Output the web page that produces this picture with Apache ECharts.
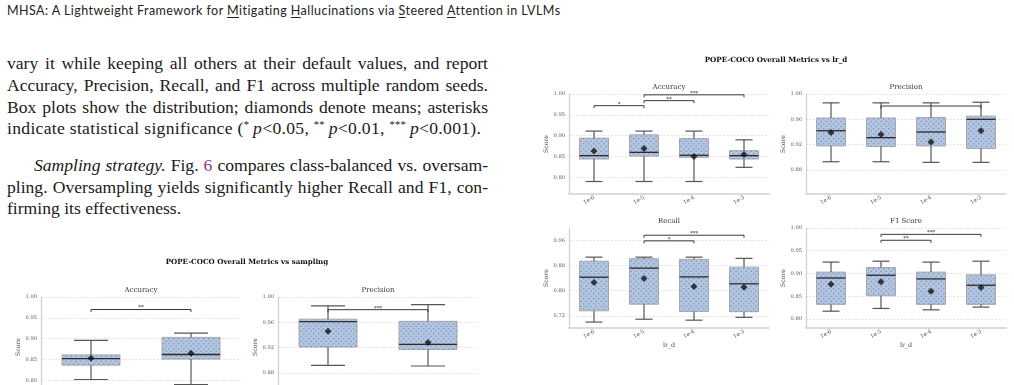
<!DOCTYPE html>
<html><head><meta charset="utf-8">
<script src="https://cdn.jsdelivr.net/npm/echarts@6/dist/echarts.min.js"></script>
<style>
html,body{margin:0;padding:0;background:#fff;width:1014px;height:385px;overflow:hidden;position:relative;}
#header{position:absolute;left:7px;top:3px;font-family:Lato,'Noto Sans',sans-serif;font-size:12.5px;letter-spacing:0.45px;color:#222;white-space:nowrap;}
#header u{text-decoration-thickness:1px;text-underline-offset:2px;}
.line{position:absolute;left:7px;width:481px;font-family:'Liberation Serif',serif;font-size:17.6px;color:#1a1a1a;text-align:justify;text-align-last:justify;height:21.7px;line-height:21.7px;white-space:nowrap;}
.line.last{text-align:left;text-align-last:left;}
.line sup{font-size:10.5px;vertical-align:6px;line-height:0;}
.fig{color:#8e3a8e;}
#chart{position:absolute;left:0;top:0;width:1014px;height:520px;}
</style></head>
<body>
<div id="header">MHSA: A Lightweight Framework for <u>M</u>itigating <u>H</u>allucinations via <u>S</u>teered <u>A</u>ttention in LVLMs</div>
<div class="line" style="top:53.2px">vary it while keeping all others at their default values, and report</div>
<div class="line" style="top:74.9px">Accuracy, Precision, Recall, and F1 across multiple random seeds.</div>
<div class="line" style="top:96.5px">Box plots show the distribution; diamonds denote means; asterisks</div>
<div class="line last" style="top:118.2px;letter-spacing:0.3px">indicate statistical significance (<sup>*</sup>&thinsp;<i>p</i>&lt;0.05, <sup>**</sup>&thinsp;<i>p</i>&lt;0.01, <sup>***</sup>&thinsp;<i>p</i>&lt;0.001).</div>
<div class="line" style="top:154.9px;left:34px;width:454px"><i>Sampling strategy.</i> Fig. <span class="fig">6</span> compares class-balanced vs. oversam-</div>
<div class="line" style="top:176.6px">pling. Oversampling yields significantly higher Recall and F1, con-</div>
<div class="line last" style="top:198.3px">firming its effectiveness.</div>
<div id="chart"></div>
<script>
// ---------------- data ----------------
const lrCategories = ['1e-6', '1e-5', '1e-4', '1e-3'];
const samplingCategories = ['class-balanced', 'oversampling'];

const accuracyTicks = [0.80, 0.85, 0.90, 0.95, 1.00];
const precisionTicks = [0.88, 0.92, 0.96, 1.00];
const recallTicks = [0.72, 0.80, 0.88, 0.96];
const f1Ticks = [0.80, 0.85, 0.90, 0.95, 1.00];

// box: [lower whisker, Q1, median, Q3, upper whisker]
const lrAccuracyBox = [[0.790, 0.844, 0.852, 0.894, 0.911], [0.790, 0.851, 0.860, 0.902, 0.911], [0.790, 0.848, 0.853, 0.893, 0.911], [0.824, 0.844, 0.852, 0.864, 0.890]];
const lrAccuracyMean = [0.863, 0.869, 0.850, 0.855];
const lrPrecisionBox = [[0.893, 0.918, 0.942, 0.962, 0.986], [0.893, 0.917, 0.931, 0.962, 0.986], [0.892, 0.918, 0.940, 0.963, 0.986], [0.892, 0.914, 0.960, 0.965, 0.987]];
const lrPrecisionMean = [0.939, 0.936, 0.924, 0.942];
const lrRecallBox = [[0.700, 0.736, 0.843, 0.894, 0.907], [0.709, 0.757, 0.872, 0.902, 0.907], [0.706, 0.734, 0.844, 0.900, 0.907], [0.715, 0.733, 0.822, 0.875, 0.903]];
const lrRecallMean = [0.826, 0.839, 0.813, 0.811];
const lrF1Box = [[0.817, 0.832, 0.890, 0.903, 0.925], [0.823, 0.851, 0.896, 0.913, 0.927], [0.820, 0.832, 0.888, 0.903, 0.925], [0.826, 0.832, 0.874, 0.897, 0.927]];
const lrF1Mean = [0.876, 0.882, 0.861, 0.869];
const samplingAccuracyBox = [[0.802, 0.8365, 0.852, 0.861, 0.896], [0.790, 0.851, 0.862, 0.903, 0.9135]];
const samplingAccuracyMean = [0.853, 0.865];
const samplingPrecisionBox = [[0.892, 0.921, 0.961, 0.965, 0.986], [0.891, 0.917, 0.925, 0.9615, 0.988]];
const samplingPrecisionMean = [0.946, 0.928];

// significance brackets: [from category, to category, height, stars]
const lrAccuracySig = [[0, 1, 0.972, '*'], [1, 2, 0.984, '**'], [1, 3, 0.998, '***']];
const lrPrecisionSig = [[1, 3, 0.981, '']];
const lrRecallSig = [[1, 2, 0.959, '*'], [1, 3, 0.977, '***']];
const lrF1Sig = [[1, 2, 0.973, '**'], [1, 3, 0.986, '***']];
const samplingAccuracySig = [[0, 1, 0.970, '**']];
const samplingPrecisionSig = [[0, 1, 0.980, '***']];

// ---------------- drawing ----------------
const FONT = 'DejaVu Serif';

function dotPattern() {
  const c = document.createElement('canvas');
  c.width = 5; c.height = 5;
  const g = c.getContext('2d');
  g.fillStyle = 'rgba(70,110,175,0.55)';
  g.beginPath(); g.arc(1.2, 1.2, 0.8, 0, 2 * Math.PI); g.fill();
  g.beginPath(); g.arc(3.7, 3.7, 0.8, 0, 2 * Math.PI); g.fill();
  return c;
}
const PATTERN = { image: dotPattern(), repeat: 'repeat' };

function boxItem(params, api) {
  const cat = api.value(0);
  const v = [1, 2, 3, 4, 5].map(i => api.value(i));
  const band = api.size([1, 0])[0];
  const bw = band * 0.58, cw = band * 0.34;
  const p = v.map(val => api.coord([cat, val]));
  const x = p[0][0];
  const yMin = p[0][1], yQ1 = p[1][1], yMed = p[2][1], yQ3 = p[3][1], yMax = p[4][1];
  const wl = { stroke: '#555', lineWidth: 1.2 };
  return {
    type: 'group', children: [
      { type: 'rect', shape: { x: x - bw / 2, y: yQ3, width: bw, height: yQ1 - yQ3 }, style: { fill: '#b4c6df', stroke: '#a9a9a9', lineWidth: 1 } },
      { type: 'rect', shape: { x: x - bw / 2, y: yQ3, width: bw, height: yQ1 - yQ3 }, style: { fill: PATTERN } },
      { type: 'line', shape: { x1: x, y1: yQ3, x2: x, y2: yMax }, style: wl },
      { type: 'line', shape: { x1: x, y1: yQ1, x2: x, y2: yMin }, style: wl },
      { type: 'line', shape: { x1: x - cw / 2, y1: yMax, x2: x + cw / 2, y2: yMax }, style: wl },
      { type: 'line', shape: { x1: x - cw / 2, y1: yMin, x2: x + cw / 2, y2: yMin }, style: wl },
      { type: 'line', shape: { x1: x - bw / 2, y1: yMed, x2: x + bw / 2, y2: yMed }, style: { stroke: '#2b2b2b', lineWidth: 1.3 } }
    ]
  };
}

function sigItem(sig) {
  return function (params, api) {
    const a = api.coord([api.value(0), api.value(2)]);
    const b = api.coord([api.value(1), api.value(2)]);
    const t = 2.5;
    return {
      type: 'group', children: [
        { type: 'polyline', shape: { points: [[a[0], a[1] + t], [a[0], a[1]], [b[0], b[1]], [b[0], b[1] + t]] }, style: { stroke: '#3a3a3a', lineWidth: 1, fill: null } },
        { type: 'text', x: (a[0] + b[0]) / 2, y: a[1] + 1.5, style: { text: sig[params.dataIndex][3], font: '5.5px "DejaVu Serif"', fill: '#333', align: 'center', verticalAlign: 'bottom' } }
      ]
    };
  };
}

const panelDefs = [
  { left: 569, top: 94, cats: lrCategories, box: lrAccuracyBox, mean: lrAccuracyMean, sig: lrAccuracySig, min: 0.76, max: 1.0, ticks: accuracyTicks, name: 'Accuracy', xName: '' },
  { left: 806, top: 94, cats: lrCategories, box: lrPrecisionBox, mean: lrPrecisionMean, sig: lrPrecisionSig, min: 0.842, max: 1.0, ticks: precisionTicks, name: 'Precision', xName: '' },
  { left: 569, top: 228, cats: lrCategories, box: lrRecallBox, mean: lrRecallMean, sig: lrRecallSig, min: 0.681, max: 1.0, ticks: recallTicks, name: 'Recall', xName: 'lr_d' },
  { left: 806, top: 228, cats: lrCategories, box: lrF1Box, mean: lrF1Mean, sig: lrF1Sig, min: 0.78, max: 1.0, ticks: f1Ticks, name: 'F1 Score', xName: 'lr_d' },
  { left: 41, top: 297, cats: samplingCategories, box: samplingAccuracyBox, mean: samplingAccuracyMean, sig: samplingAccuracySig, min: 0.76, max: 1.0, ticks: accuracyTicks, name: 'Accuracy', xName: 'sampling' },
  { left: 278, top: 297, cats: samplingCategories, box: samplingPrecisionBox, mean: samplingPrecisionMean, sig: samplingPrecisionSig, min: 0.842, max: 1.0, ticks: precisionTicks, name: 'Precision', xName: 'sampling' }
];

const grid = [], xAxis = [], yAxis = [], series = [];
const graphic = [
  { type: 'text', x: 776, y: 60, style: { text: 'POPE-COCO Overall Metrics vs lr_d', font: 'bold 7.2px "DejaVu Serif"', fill: '#111', align: 'center', verticalAlign: 'middle' } },
  { type: 'text', x: 247, y: 262.5, style: { text: 'POPE-COCO Overall Metrics vs sampling', font: 'bold 7.1px "DejaVu Serif"', fill: '#111', align: 'center', verticalAlign: 'middle' } }
];

panelDefs.forEach((p, i) => {
  grid.push({ left: p.left, top: p.top, width: 200, height: 100, outerBoundsMode: 'none', containLabel: false });
  xAxis.push({
    gridIndex: i, type: 'category', data: p.cats, boundaryGap: true,
    axisLine: { show: true, lineStyle: { color: '#cfcfcf', width: 1.5 } },
    axisTick: { show: false },
    axisLabel: { rotate: 30, fontSize: 5.4, color: '#555', fontFamily: FONT, margin: 3, interval: 0 },
    splitLine: { show: false },
    name: p.xName, nameLocation: 'middle', nameGap: 14,
    nameTextStyle: { fontSize: 6.3, color: '#444', fontFamily: FONT }
  });
  yAxis.push({
    gridIndex: i, type: 'value', min: p.min, max: p.max,
    axisLine: { show: true, lineStyle: { color: '#cfcfcf', width: 1.2 } },
    axisTick: { show: false, customValues: p.ticks },
    axisLabel: { customValues: p.ticks, formatter: v => v.toFixed(2), fontSize: 5.2, color: '#555', fontFamily: FONT, margin: 4 },
    splitLine: { show: true, lineStyle: { color: '#dcdcdc', width: 0.8, type: [2, 1.5] } },
    name: 'Score', nameLocation: 'middle', nameGap: 16,
    nameTextStyle: { fontSize: 6.2, color: '#444', fontFamily: FONT }
  });
  series.push({ type: 'custom', xAxisIndex: i, yAxisIndex: i, renderItem: boxItem, data: p.box.map((b, k) => [k, ...b]), encode: { x: 0, y: [1, 2, 3, 4, 5] }, z: 2, silent: true });
  series.push({ type: 'scatter', xAxisIndex: i, yAxisIndex: i, data: p.mean.map((m, k) => [k, m]), symbol: 'diamond', symbolSize: 7, itemStyle: { color: '#111' }, z: 4, silent: true });
  series.push({ type: 'custom', xAxisIndex: i, yAxisIndex: i, renderItem: sigItem(p.sig), data: p.sig.map(s => [s[0], s[1], s[2]]), encode: { x: [0, 1], y: 2 }, z: 5, silent: true });
  graphic.push({ type: 'text', x: p.left + 100, y: p.top - 6.5, style: { text: p.name, font: '7px "DejaVu Serif"', fill: '#333', align: 'center', verticalAlign: 'middle' } });
});

const chart = echarts.init(document.getElementById('chart'), null, { renderer: 'canvas' });
chart.setOption({ animation: false, grid, xAxis, yAxis, series, graphic });
</script>
</body></html>
